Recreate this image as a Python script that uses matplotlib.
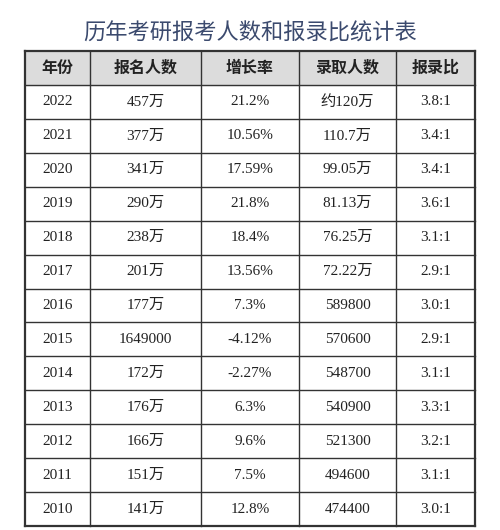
import matplotlib.pyplot as plt
from matplotlib.patches import Rectangle

title = '历年考研报考人数和报录比统计表'
headers = ['年份', '报名人数', '增长率', '录取人数', '报录比']
years = ['2022', '2021', '2020', '2019', '2018', '2017', '2016', '2015', '2014', '2013', '2012', '2011', '2010']
applicants = ['457万', '377万', '341万', '290万', '238万', '201万', '177万', '1649000', '172万', '176万', '166万', '151万', '141万']
growth = ['21.2%', '10.56%', '17.59%', '21.8%', '18.4%', '13.56%', '7.3%', '-4.12%', '-2.27%', '6.3%', '9.6%', '7.5%', '12.8%']
admitted = ['约120万', '110.7万', '99.05万', '81.13万', '76.25万', '72.22万', '589800', '570600', '548700', '540900', '521300', '494600', '474400']
ratio = ['3.8:1', '3.4:1', '3.4:1', '3.6:1', '3.1:1', '2.9:1', '3.0:1', '2.9:1', '3.1:1', '3.3:1', '3.2:1', '3.1:1', '3.0:1']

col_x = [25, 90, 201, 299, 396, 475]
top, bottom = 51, 526
nrows = len(years) + 1
rh = (bottom - top) / nrows

fig = plt.figure(figsize=(5, 5.3), dpi=100)
ax = fig.add_axes([0, 0, 1, 1])
ax.set_xlim(0, 500)
ax.set_ylim(530, 0)
ax.axis('off')

ax.text(250, 33, title, ha='center', va='center', fontsize=16, fontweight='medium', color='#3b4a6e',
        family=['Noto Sans CJK SC', 'DejaVu Sans'])

# header background
ax.add_patch(Rectangle((col_x[0], top), col_x[-1] - col_x[0], rh, color='#dcdcdc', zorder=0))

cols = [years, applicants, growth, admitted, ratio]
for j in range(5):
    cx = (col_x[j] + col_x[j + 1]) / 2
    ax.text(cx, top + rh / 2, headers[j], ha='center', va='center', fontsize=11.5,
            fontweight='bold', color='#222222', family=['Noto Sans CJK SC'])
    for i, val in enumerate(cols[j]):
        y = top + rh * (i + 1.5)
        ax.text(cx, y, val, ha='center', va='center', fontsize=11, color='#222222',
                family=['Liberation Serif', 'Noto Sans CJK SC'])

for i in range(nrows + 1):
    y = top + rh * i
    lw = 1.6 if i in (0, nrows) else 1.0
    ax.plot([col_x[0], col_x[-1]], [y, y], color='#333333', lw=lw)
for j, x in enumerate(col_x):
    lw = 1.6 if j in (0, len(col_x) - 1) else 1.0
    ax.plot([x, x], [top, bottom], color='#333333', lw=lw)

fig.savefig('out.png', dpi=100, facecolor='white')
